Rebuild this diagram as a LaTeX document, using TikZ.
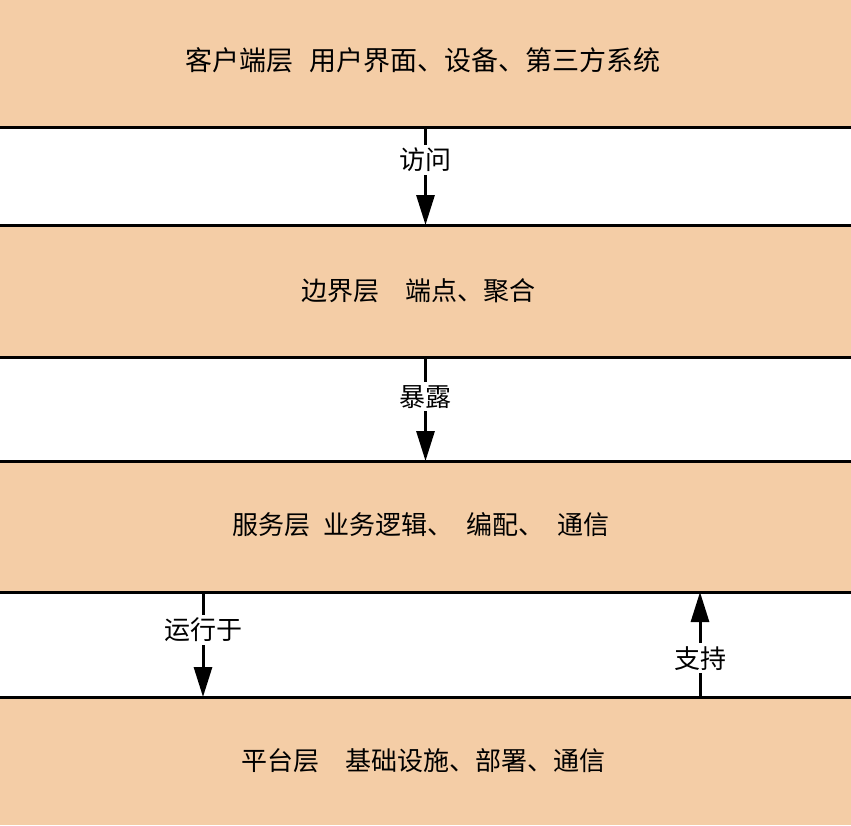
\documentclass[tikz,border=0pt]{standalone}
\usepackage{fontspec}
\newfontfamily\cjk{Noto Sans CJK SC}
\usetikzlibrary{arrows.meta}
\definecolor{bandfill}{RGB}{244,205,166}
\tikzset{
  band/.style={fill=bandfill, draw=none, minimum width=851pt, inner sep=0pt, outer sep=0pt},
  bandtext/.style={font=\cjk\fontsize{26}{30}\selectfont},
  border/.style={line width=3pt, black},
  arr/.style={line width=3pt, -{Triangle[length=30pt,width=18pt]}},
  lbl/.style={fill=white, inner sep=3pt, font=\cjk\fontsize{26}{30}\selectfont}
}
\begin{document}
\begin{tikzpicture}[x=1pt,y=-1pt]
\useasboundingbox (0,0) rectangle (851,825);
\node[band, minimum height=127.5pt] (b1) at (425.5,63.75) {};
\node[band, minimum height=132.5pt] (b2) at (425.5,291.25) {};
\node[band, minimum height=131pt] (b3) at (425.5,526.5) {};
\node[band, minimum height=128pt] (b4) at (425.5,761) {};
\node[bandtext, font=\cjk\fontsize{27}{30}\selectfont] (t1) at (423,60) {客户端层\hspace{0.6em}用户界面、设备、第三方系统};
\node[bandtext] (t2) at (418,291) {边界层\hspace{1em}端点、聚合};
\node[bandtext] (t3) at (421,525) {服务层\hspace{0.5em}业务逻辑、\hspace{0.5em}编配、\hspace{0.5em}通信};
\node[bandtext] (t4) at (423,761) {平台层\hspace{1em}基础设施、部署、通信};
\draw[border] (b1.south west) -- (b1.south east);
\draw[border] (b2.north west) -- (b2.north east);
\draw[border] (b2.south west) -- (b2.south east);
\draw[border] (b3.north west) -- (b3.north east);
\draw[border] (b3.south west) -- (b3.south east);
\draw[border] (b4.north west) -- (b4.north east);
\coordinate (r1) at (203,592);
\coordinate (r2) at (203,697);
\coordinate (s1) at (700,697);
\coordinate (s2) at (700,592);
\draw[arr] (b1.south) -- node[lbl, pos=0.33] (l1) {访问} (b2.north);
\draw[arr] (b2.south) -- node[lbl, pos=0.38] (l2) {暴露} (b3.north);
\draw[arr] (r1) -- node[lbl, pos=0.36] (l3) {运行于} (r2);
\draw[arr] (s1) -- node[lbl, pos=0.37] (l4) {支持} (s2);
\end{tikzpicture}
\end{document}
